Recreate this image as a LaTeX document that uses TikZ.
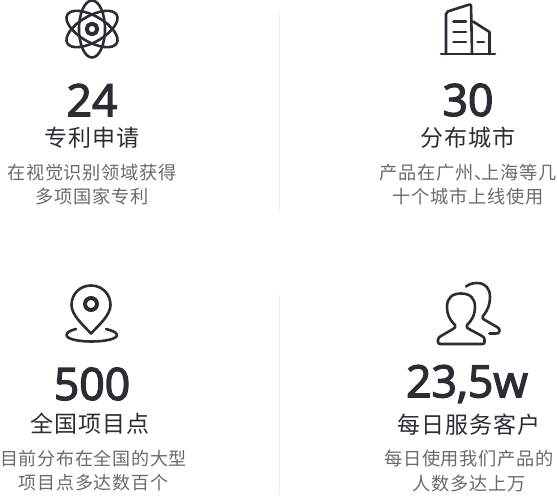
\documentclass[tikz,border=0pt]{standalone}
\usepackage{fontspec}
\setmainfont{Noto Sans CJK SC}[LetterSpace=4]
\newfontfamily\numfont{Open Sans}[FakeBold=3]
\definecolor{inkdark}{HTML}{2B2D36}
\definecolor{inkgray}{HTML}{6A6A6A}
\definecolor{rulegray}{HTML}{EEEEEE}
\begin{document}
\begin{tikzpicture}[x=1pt,y=-1pt,
    num node/.style={text=inkdark, inner sep=0pt, font=\numfont\fontsize{44.5}{44.5}\selectfont},
    title node/.style={text=inkdark, inner sep=0pt, font=\fontsize{23}{26}\selectfont},
    desc node/.style={text=inkgray, inner sep=0pt, align=center, font=\fontsize{18.2}{24.5}\selectfont},
    icon/.style={draw=inkdark, line width=2.6pt, line join=round, line cap=round}]
  \useasboundingbox (0,0) rectangle (557,497);

  % dividers
  \draw[rulegray] (279.5,13) -- (279.5,213);
  \draw[rulegray] (279.5,295) -- (279.5,495);

  % texts
  \node[num node] (num1) at (92,100) {24};
  \node[title node] (title1) [below of=num1, node distance=38pt] {专利申请};
  \node[desc node] (desc1) [below of=title1, node distance=46.5pt] {在视觉识别领域获得\\多项国家专利};

  \node[num node] (num2) at (468,100) {30};
  \node[title node] (title2) [below of=num2, node distance=38pt] {分布城市};
  \node[desc node] (desc2) [below of=title2, node distance=46.5pt] {产品在广州、\kern-11pt 上海等几\\十个城市上线使用};

  \node[num node] (num3) at (92,384) {500};
  \node[title node] (title3) at (90,424) {全国项目点};
  \node[desc node, font=\fontsize{18}{24.5}\selectfont] (desc3) at (93.5,470.5) {目前分布在全国的大型\\项目点多达数百个};

  \node[num node] (num4) at (467,384) {23,5w};
  \node[title node] (title4) at (469,425) {每日服务客户};
  \node[desc node] (desc4) [below of=title4, node distance=46pt] {每日使用我们产品的\\人数多达上万};

  % atom
  \foreach \ang in {0,60,-60}
    \draw[icon, rotate around={\ang:(92,29)}] (92,29) ellipse (13 and 28.5);
  \draw[icon, line width=4pt] (92,29) circle (5.3);

  % building
  \draw[icon] (441,54) -- (495,54);
  \draw[icon, rounded corners=2pt] (446,54) -- (446,12) -- (471,4) -- (472,54);
  \draw[icon] (473,21.5) -- (489.5,32) -- (489.5,54);
  \draw[icon] (453.5,21.5) -- (466,21.5);
  \draw[icon] (453.5,32) -- (466,32);
  \draw[icon] (453.5,42) -- (466,42);
  \draw[icon] (477.5,42) -- (484,42);

  % pin
  \draw[icon] (91,333.5) .. controls (83,325) and (71.5,315) .. (71.5,305)
    .. controls (71.5,294) and (80,285.5) .. (91,285.5)
    .. controls (102,285.5) and (110.5,294) .. (110.5,305)
    .. controls (110.5,315) and (99,325) .. (91,333.5) -- cycle;
  \draw[icon, line width=4pt] (91,304) circle (6);
  \draw[icon] (76,329) .. controls (70,330.5) and (66.5,332.5) .. (66.5,335)
    .. controls (66.5,339) and (78,341.5) .. (91.5,341.5)
    .. controls (105,341.5) and (117,339) .. (117,335)
    .. controls (117,332.5) and (112,330.5) .. (106,329);

  % people
  \draw[icon] (455,325) .. controls (449,319) and (447,314) .. (447,307)
    .. controls (447,298) and (452,293.5) .. (461,293.5)
    .. controls (470,293.5) and (475,298) .. (475,307)
    .. controls (475,314) and (473,319) .. (467,325)
    .. controls (466,327) and (467,328) .. (469,329)
    -- (482,336) .. controls (484,337) and (484.5,338) .. (484.5,340)
    -- (484.5,342) .. controls (484.5,343.5) and (484,344) .. (482,344)
    -- (441,344) .. controls (439,344) and (438,343.5) .. (438,342)
    -- (438,340) .. controls (438,338) and (439,337) .. (441,336)
    -- (453,329) .. controls (455,328) and (456,327) .. (455,325) -- cycle;
  \draw[icon] (466,286.5) .. controls (469,284) and (473,283) .. (477,283)
    .. controls (486,283) and (490,289) .. (490,297)
    .. controls (490,304) and (488,310) .. (483,316)
    .. controls (482,317.5) and (482.5,318.5) .. (484,319.5)
    -- (497,327) .. controls (499,328) and (499.5,329) .. (499.5,331)
    .. controls (499.5,333) and (498,333.5) .. (496,333.5) -- (489.5,333.5);
\end{tikzpicture}
\end{document}
